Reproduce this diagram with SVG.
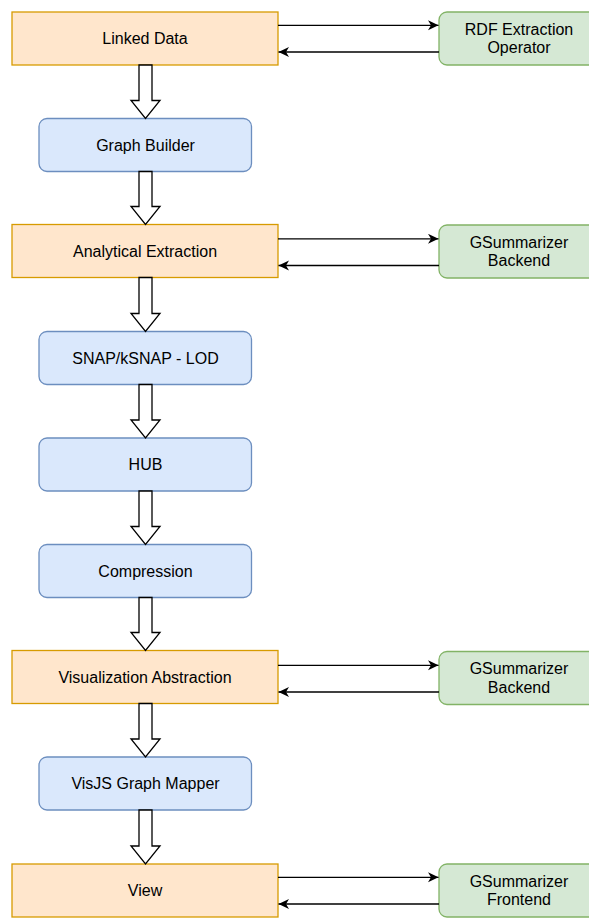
<svg xmlns="http://www.w3.org/2000/svg" width="589" height="918" viewBox="0 0 589 918">
  <style>
    .orange { fill: #ffe6cc; stroke: #d79b00; stroke-width: 1.3; }
    .blue { fill: #dae8fc; stroke: #6c8ebf; stroke-width: 1.3; }
    .green { fill: #d5e8d4; stroke: #82b366; stroke-width: 1.3; }
    .label { font-family: "Liberation Sans", Arial, Helvetica, sans-serif; font-size: 16px; fill: #000; text-anchor: middle; dominant-baseline: central; }
    .flow { fill: #fff; stroke: #000; stroke-width: 1.3; stroke-linejoin: miter; }
    .link { fill: none; stroke: #000; stroke-width: 1.3; marker-end: url(#arrow); }
  </style>
  <defs>
    <marker id="arrow" markerUnits="userSpaceOnUse" markerWidth="12" markerHeight="11" refX="10.5" refY="5" orient="auto">
      <path d="M0,0 L10.5,5 L0,10 L3,5 Z" fill="#000"/>
    </marker>
  </defs>

  <!-- main pipeline nodes -->
  <g id="linked-data"><rect class="orange" x="12" y="12" width="266" height="53"/><text class="label" x="145" y="38.5">Linked Data</text></g>
  <g id="graph-builder"><rect class="blue" x="39" y="118.5" width="212.5" height="53" rx="8"/><text class="label" x="145.5" y="145">Graph Builder</text></g>
  <g id="analytical-extraction"><rect class="orange" x="12" y="224.5" width="266" height="53"/><text class="label" x="145" y="251">Analytical Extraction</text></g>
  <g id="snap-ksnap"><rect class="blue" x="39" y="331.5" width="212.5" height="53" rx="8"/><text class="label" x="145.5" y="358">SNAP/kSNAP - LOD</text></g>
  <g id="hub"><rect class="blue" x="39" y="438" width="212.5" height="53" rx="8"/><text class="label" x="145.5" y="464.5">HUB</text></g>
  <g id="compression"><rect class="blue" x="39" y="544.5" width="212.5" height="53" rx="8"/><text class="label" x="145.5" y="571">Compression</text></g>
  <g id="visualization-abstraction"><rect class="orange" x="12" y="650.5" width="266" height="53"/><text class="label" x="145" y="677">Visualization Abstraction</text></g>
  <g id="visjs-graph-mapper"><rect class="blue" x="39" y="757" width="212.5" height="53" rx="8"/><text class="label" x="145.5" y="783.5">VisJS Graph Mapper</text></g>
  <g id="view"><rect class="orange" x="12" y="864" width="266" height="53"/><text class="label" x="145" y="890.5">View</text></g>

  <!-- side services -->
  <g id="rdf-extraction-operator"><rect class="green" x="439" y="12" width="160" height="53" rx="8"/><text class="label" x="519" y="29">RDF Extraction</text><text class="label" x="519" y="47.5">Operator</text></g>
  <g id="gsummarizer-backend-1"><rect class="green" x="439" y="225" width="160" height="53" rx="8"/><text class="label" x="519" y="242">GSummarizer</text><text class="label" x="519" y="260.5">Backend</text></g>
  <g id="gsummarizer-backend-2"><rect class="green" x="439" y="651.5" width="160" height="53" rx="8"/><text class="label" x="519" y="668.5">GSummarizer</text><text class="label" x="519" y="687">Backend</text></g>
  <g id="gsummarizer-frontend"><rect class="green" x="439" y="864" width="160" height="53" rx="8"/><text class="label" x="519" y="881">GSummarizer</text><text class="label" x="519" y="899.5">Frontend</text></g>

  <g id="connectors">
    <!-- block arrows down the pipeline -->
    <polygon class="flow" points="139,65 152,65 152,100.5 160,100.5 145.5,118.5 131,100.5 139,100.5"/>
    <polygon class="flow" points="139,171.5 152,171.5 152,206.5 160,206.5 145.5,224.5 131,206.5 139,206.5"/>
    <polygon class="flow" points="139,277.5 152,277.5 152,313.5 160,313.5 145.5,331.5 131,313.5 139,313.5"/>
    <polygon class="flow" points="139,384.5 152,384.5 152,420 160,420 145.5,438 131,420 139,420"/>
    <polygon class="flow" points="139,491 152,491 152,526.5 160,526.5 145.5,544.5 131,526.5 139,526.5"/>
    <polygon class="flow" points="139,597.5 152,597.5 152,632.5 160,632.5 145.5,650.5 131,632.5 139,632.5"/>
    <polygon class="flow" points="139,703.5 152,703.5 152,739 160,739 145.5,757 131,739 139,739"/>
    <polygon class="flow" points="139,810 152,810 152,846 160,846 145.5,864 131,846 139,846"/>

    <!-- request / response links to services -->
    <line class="link" x1="278" y1="25.3" x2="438.5" y2="25.3"/>
    <line class="link" x1="439" y1="52" x2="278.5" y2="52"/>
    <line class="link" x1="278" y1="238.8" x2="438.5" y2="238.8"/>
    <line class="link" x1="439" y1="265.5" x2="278.5" y2="265.5"/>
    <line class="link" x1="278" y1="665.3" x2="438.5" y2="665.3"/>
    <line class="link" x1="439" y1="692" x2="278.5" y2="692"/>
    <line class="link" x1="278" y1="877.3" x2="438.5" y2="877.3"/>
    <line class="link" x1="439" y1="904" x2="278.5" y2="904"/>
  </g>
</svg>
